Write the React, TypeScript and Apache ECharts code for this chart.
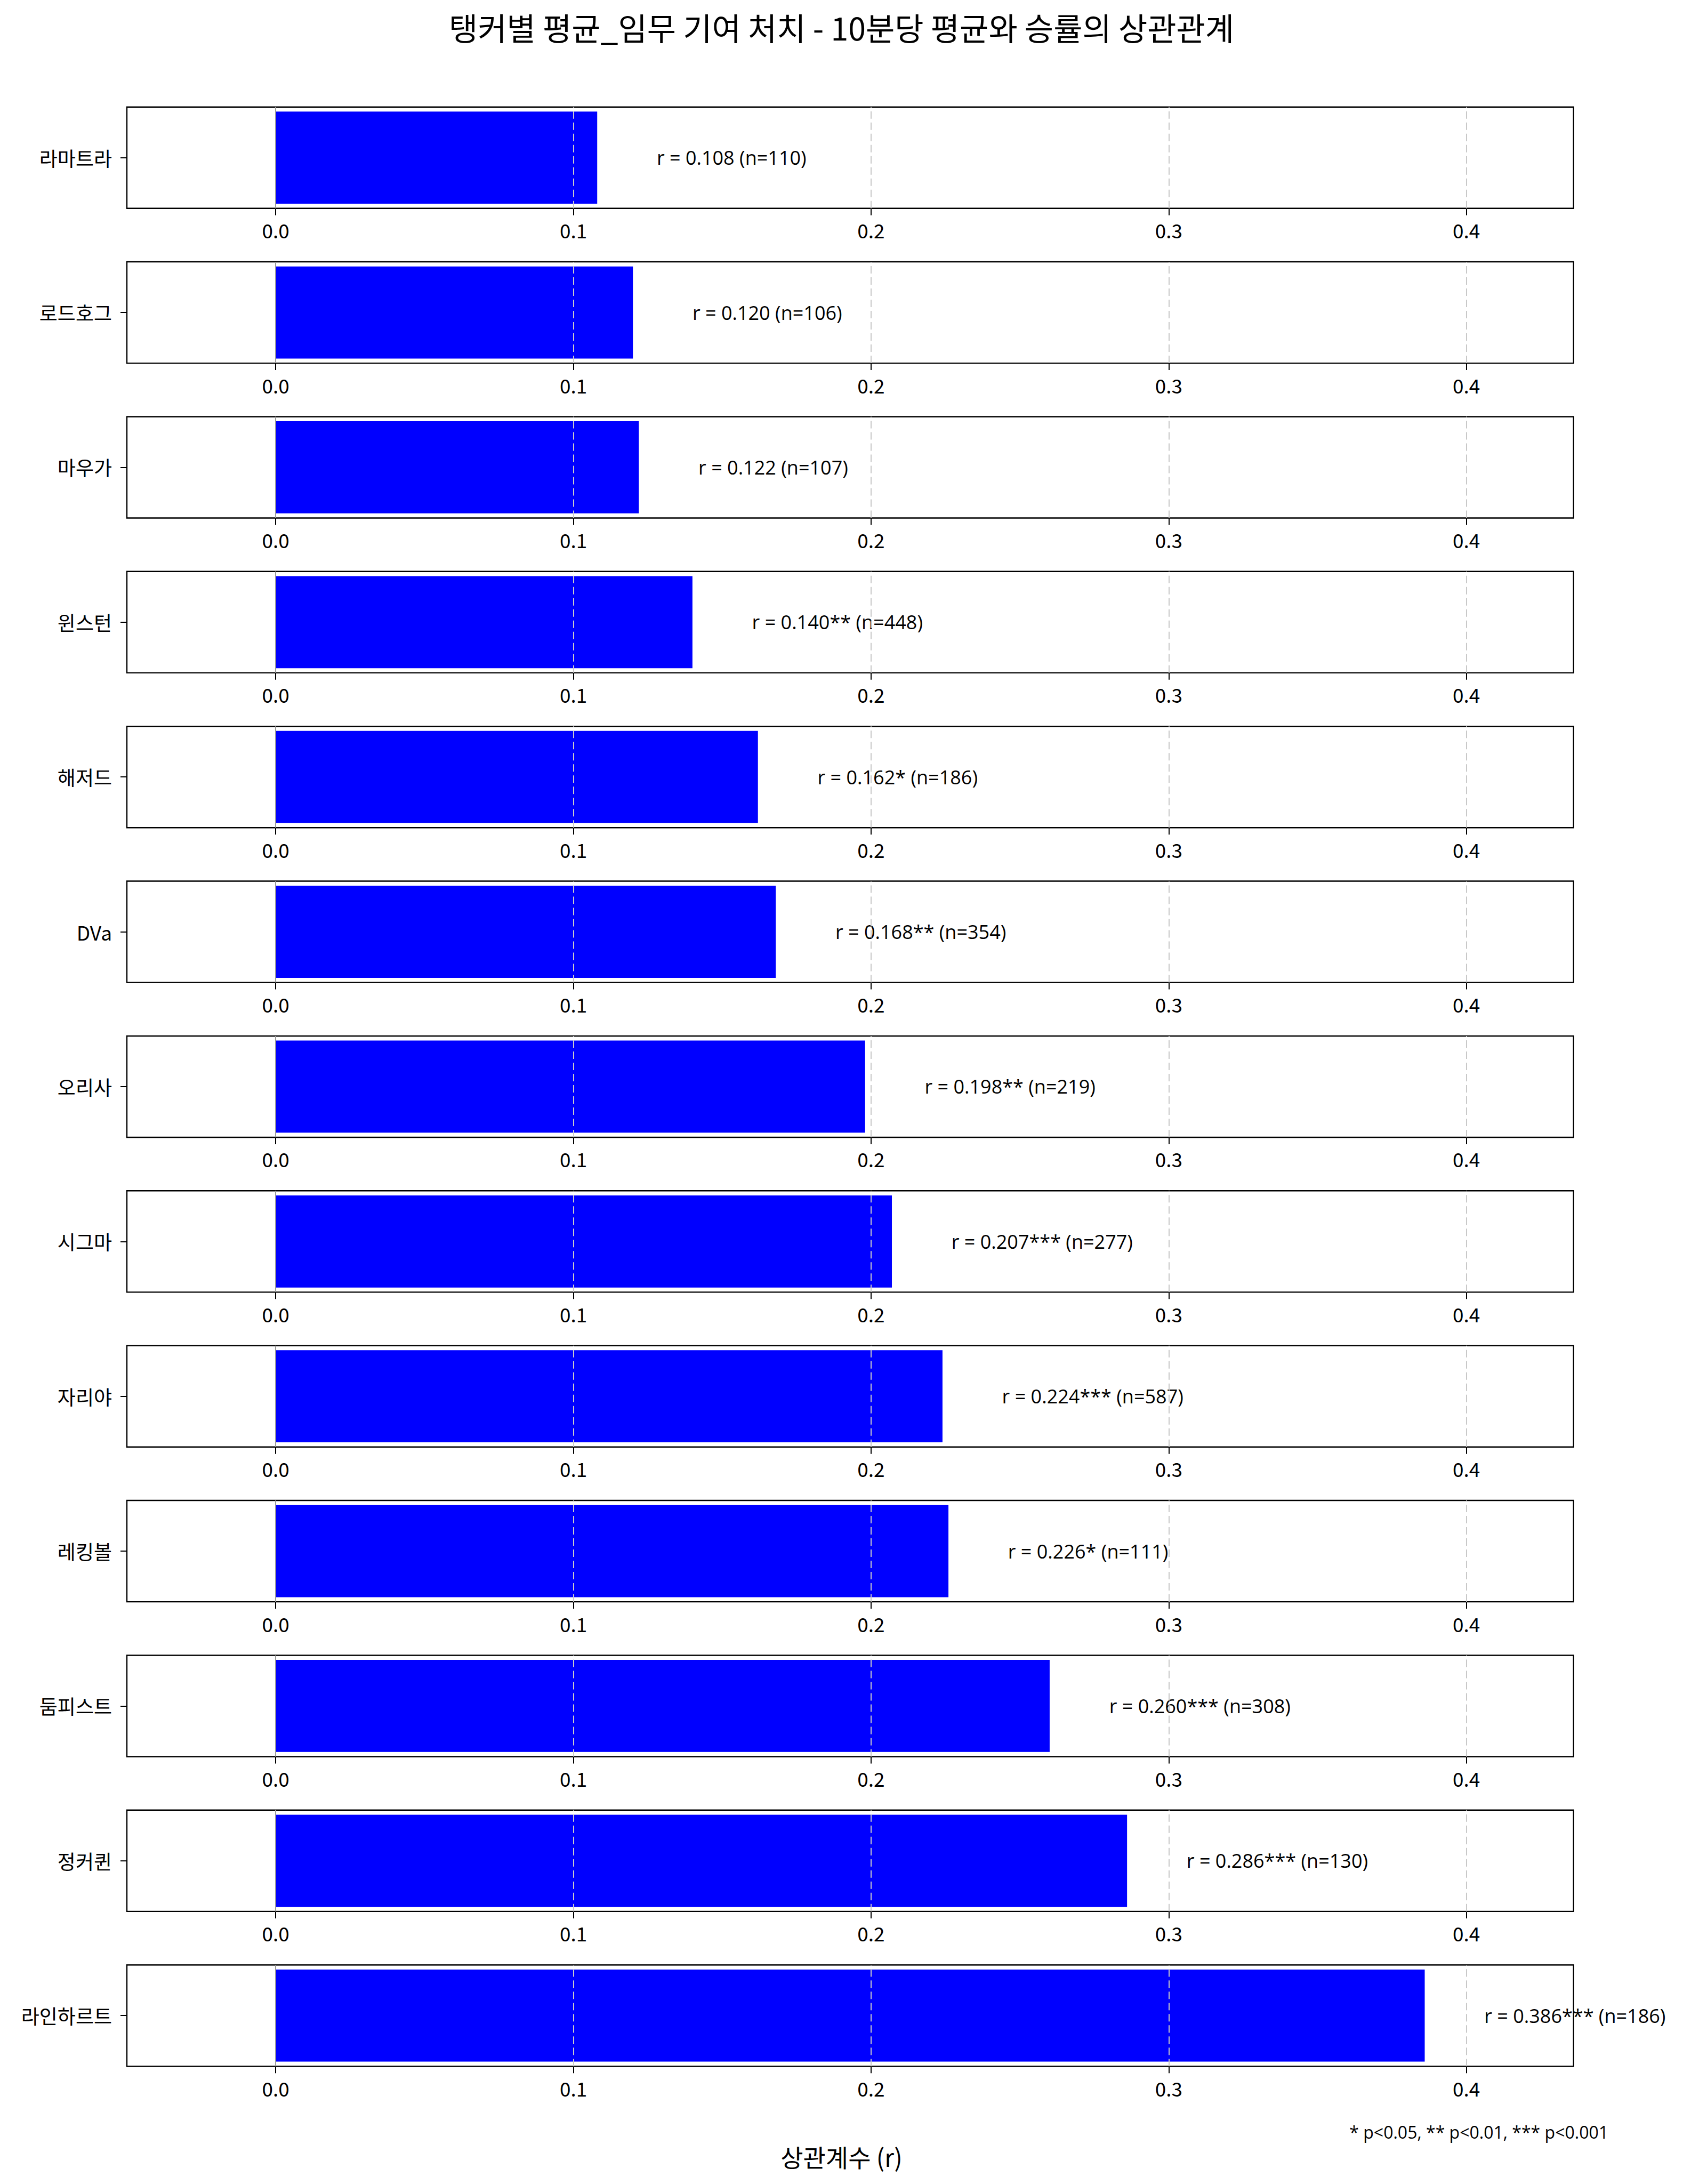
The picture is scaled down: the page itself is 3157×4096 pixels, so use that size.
import React, { useEffect, useRef } from 'react';
import * as echarts from 'echarts';

const heroes = ['라마트라', '로드호그', '마우가', '윈스턴', '해저드', 'DVa', '오리사', '시그마', '자리야', '레킹볼', '둠피스트', '정커퀸', '라인하르트'];
const rValues = [0.108, 0.120, 0.122, 0.140, 0.162, 0.168, 0.198, 0.207, 0.224, 0.226, 0.260, 0.286, 0.386];
const stars = ['', '', '', '**', '*', '**', '**', '***', '***', '*', '***', '***', '***'];
const nValues = [110, 106, 107, 448, 186, 354, 219, 277, 587, 111, 308, 130, 186];
const tickValues = [0, 0.1, 0.2, 0.3, 0.4];
const gridValues = [0.1, 0.2, 0.3, 0.4];
const xMin = -0.05;
const xMax = 0.436;

const titleText = '탱커별 평균_임무 기여 처치 - 10분당 평균와 승률의 상관관계';
const xLabelText = '상관계수 (r)';
const noteText = '* p<0.05, ** p<0.01, *** p<0.001';

const S = 0.888;
const FONT = '"Noto Sans CJK KR", "Noto Sans", sans-serif';
const LATIN = '"Open Sans", "Noto Sans CJK KR", sans-serif';

export default function App() {
  const ref = useRef<HTMLDivElement>(null);
  useEffect(() => {
    if (!ref.current) return;
    const chart = echarts.init(ref.current, null, { renderer: 'svg' });
    const left = 268 * S;
    const width = (3324 - 268) * S;
    const height = 214 * S;
    const pxPerUnit = width / (xMax - xMin);
    const grids: any[] = [];
    const xAxes: any[] = [];
    const yAxes: any[] = [];
    const series: any[] = [];
    heroes.forEach((name, i) => {
      grids.push({
        left,
        width,
        top: (226 + i * 327) * S,
        height,
        show: true,
        borderColor: '#000',
        borderWidth: 2.4,
        backgroundColor: '#fff',
      });
      xAxes.push({
        type: 'value',
        gridIndex: i,
        min: xMin,
        max: xMax,
        axisLine: { show: false, onZero: false },
        splitLine: { show: false },
        axisTick: {
          show: true,
          customValues: tickValues,
          length: 13,
          lineStyle: { color: '#000', width: 2 },
        },
        axisLabel: {
          show: true,
          customValues: tickValues,
          formatter: (v: number) => v.toFixed(1),
          margin: 22,
          fontSize: 37,
          color: '#000',
          fontFamily: FONT,
        },
      });
      yAxes.push({
        type: 'category',
        gridIndex: i,
        position: 'left',
        data: [name],
        axisLine: { show: false, onZero: false },
        axisTick: { show: true, alignWithLabel: true, length: 12, lineStyle: { color: '#000', width: 2 } },
        axisLabel: { margin: 28, fontSize: 37, color: '#000', fontFamily: FONT },
        splitLine: { show: false },
      });
      series.push({
        type: 'bar',
        xAxisIndex: i,
        yAxisIndex: i,
        data: [rValues[i]],
        barWidth: '90.9%',
        itemStyle: { color: '#0000ff' },
        label: {
          show: true,
          position: 'right',
          distance: 0.02 * pxPerUnit,
          formatter: () => `r = ${rValues[i].toFixed(3)}${stars[i]} (n=${nValues[i]})`,
          fontSize: 36,
          color: '#000',
          fontFamily: LATIN,
        },
        markLine: {
          silent: true,
          symbol: 'none',
          label: { show: false },
          data: [
            { xAxis: 0, lineStyle: { type: 'solid', color: '#9a9a9a', width: 2 } },
            ...gridValues.map((v) => ({ xAxis: v, lineStyle: { type: [14, 7], color: '#c8c8c8', width: 2 } })),
          ],
        },
      });
    });
    chart.setOption({
      animation: false,
      backgroundColor: '#fff',
      textStyle: { fontFamily: FONT },
      title: [
        {
          text: titleText,
          left: 'center',
          top: 16,
          textStyle: { fontSize: 59, fontWeight: 'normal', color: '#000', fontFamily: FONT },
        },
        {
          text: xLabelText,
          left: 'center',
          top: 4016,
          textStyle: { fontSize: 46, fontWeight: 'normal', color: '#000', fontFamily: FONT },
        },
        {
          text: noteText,
          right: (3554 - 3402) * S,
          top: 3977,
          textStyle: { fontSize: 32, fontWeight: 'normal', color: '#000', fontFamily: LATIN },
        },
      ],
      grid: grids,
      xAxis: xAxes,
      yAxis: yAxes,
      series,
    });
    return () => chart.dispose();
  }, []);
  return (
    <div
      ref={ref}
      style={{ position: 'absolute', left: 0, top: 0, width: 3157, height: 4096 }}
    />
  );
}
